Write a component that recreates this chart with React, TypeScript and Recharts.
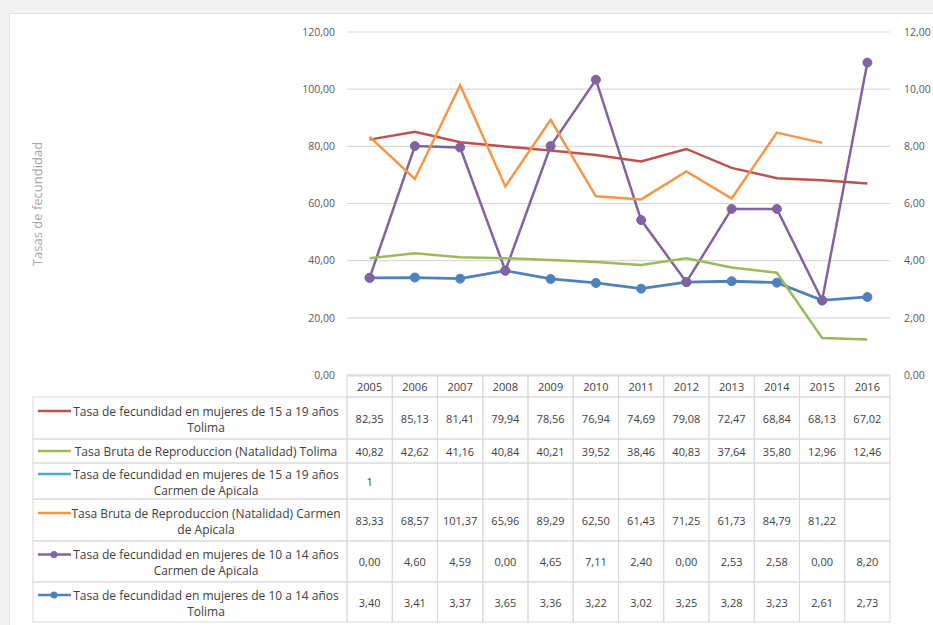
import React from 'react';
import { ComposedChart, Line, Area, XAxis, YAxis, CartesianGrid } from 'recharts';

// ---------- data ----------
const years = ['2005', '2006', '2007', '2008', '2009', '2010', '2011', '2012', '2013', '2014', '2015', '2016'];
const fec1519Tolima = [82.35, 85.13, 81.41, 79.94, 78.56, 76.94, 74.69, 79.08, 72.47, 68.84, 68.13, 67.02];
const brutaTolima = [40.82, 42.62, 41.16, 40.84, 40.21, 39.52, 38.46, 40.83, 37.64, 35.8, 12.96, 12.46];
const fec1519Carmen: (number | null)[] = [1, null, null, null, null, null, null, null, null, null, null, null];
const brutaCarmen: (number | null)[] = [83.33, 68.57, 101.37, 65.96, 89.29, 62.5, 61.43, 71.25, 61.73, 84.79, 81.22, null];
const fec1014Carmen = [0.0, 4.6, 4.59, 0.0, 4.65, 7.11, 2.4, 0.0, 2.53, 2.58, 0.0, 8.2];
const fec1014Tolima = [3.4, 3.41, 3.37, 3.65, 3.36, 3.22, 3.02, 3.25, 3.28, 3.23, 2.61, 2.73];
const leftTicks = [0, 20, 40, 60, 80, 100, 120];
const rightTicks = [0, 2, 4, 6, 8, 10, 12];
const axisTitle = 'Tasas de fecundidad';

const C_RED = '#c0504d';
const C_GREEN = '#9bbb59';
const C_CYAN = '#4bacc6';
const C_ORANGE = '#f79646';
const C_PURPLE = '#8064a2';
const C_BLUE = '#4f81bd';

const rows = [
  { key: 'r', lines: ['Tasa de fecundidad en mujeres de 15 a 19 años', 'Tolima'], color: C_RED, values: fec1519Tolima, dec: 2, marker: false },
  { key: 'g', lines: ['Tasa Bruta de Reproduccion (Natalidad) Tolima'], color: C_GREEN, values: brutaTolima, dec: 2, marker: false },
  { key: 'c', lines: ['Tasa de fecundidad en mujeres de 15 a 19 años', 'Carmen de Apicala'], color: C_CYAN, values: fec1519Carmen, dec: 0, marker: false },
  { key: 'o', lines: ['Tasa Bruta de Reproduccion (Natalidad) Carmen', 'de Apicala'], color: C_ORANGE, values: brutaCarmen, dec: 2, marker: false },
  { key: 'p', lines: ['Tasa de fecundidad en mujeres de 10 a 14 años', 'Carmen de Apicala'], color: C_PURPLE, values: fec1014Carmen, dec: 2, marker: true },
  { key: 'b', lines: ['Tasa de fecundidad en mujeres de 10 a 14 años', 'Tolima'], color: C_BLUE, values: fec1014Tolima, dec: 2, marker: true },
];

const data = years.map((y, i) => {
  const o: any = { year: y };
  rows.forEach((r) => { o[r.key] = r.values[i]; });
  return o;
});

// ---------- layout ----------
const W = 933;
const H = 625;
const PLOT_L = 347;
const PLOT_R = 890;
const PLOT_T = 32;
const PLOT_B = 375;
const LEFT_AXIS_W = 60;
const RIGHT_AXIS_W = 43;
const XAXIS_H = 30;
const COL_W = (PLOT_R - PLOT_L) / years.length;
const HEADER = [376, 397];
const ROW_Y = [397, 439, 463, 499, 541, 582, 622];
const LEG_L = 33;
const GRID = '#d9d9d9';
const TXT = '#404040';
const FONT = "'Open Sans', 'Liberation Sans', sans-serif";

const fmt = (v: number | null, dec: number) => (v === null || v === undefined ? '' : v.toFixed(dec).replace('.', ','));

function LegendColumn() {
  return (
    <g>
      {rows.map((r, ri) => {
        const top = ROW_Y[ri];
        const bot = ROW_Y[ri + 1];
        const cy = (top + bot) / 2;
        const n = r.lines.length;
        const ly = cy - (n === 2 ? 7 : 0);
        return (
          <g key={r.key}>
            <rect x={LEG_L} y={top} width={PLOT_L - LEG_L} height={bot - top} fill="none" stroke={GRID} strokeWidth={1} />
            <line x1={38} x2={71} y1={ly} y2={ly} stroke={r.color} strokeWidth={2.5} />
            {r.marker && <circle cx={54} cy={ly} r={3.5} fill={r.color} />}
            {r.lines.map((t, li) => (
              <text
                key={li}
                x={206}
                y={cy + (n === 2 ? (li === 0 ? -7 : 9) : 0)}
                textAnchor="middle"
                dominantBaseline="central"
                fontSize={12}
                fontFamily={FONT}
                fill={TXT}
              >
                {t}
              </text>
            ))}
          </g>
        );
      })}
    </g>
  );
}

function TableTick(props: any) {
  const { x, payload, index } = props;
  const i = payload && payload.index !== undefined ? payload.index : index;
  const left = x - COL_W / 2;
  return (
    <g>
      {i === 0 && <LegendColumn />}
      <rect x={left} y={HEADER[0]} width={COL_W} height={HEADER[1] - HEADER[0]} fill="none" stroke={GRID} strokeWidth={1} />
      <text x={x} y={(HEADER[0] + HEADER[1]) / 2} textAnchor="middle" dominantBaseline="central" fontSize={11} fontFamily={FONT} fill={TXT}>
        {payload.value}
      </text>
      {rows.map((r, ri) => {
        const top = ROW_Y[ri];
        const bot = ROW_Y[ri + 1];
        return (
          <g key={r.key}>
            <rect x={left} y={top} width={COL_W} height={bot - top} fill="none" stroke={GRID} strokeWidth={1} />
            <text x={x} y={(top + bot) / 2} textAnchor="middle" dominantBaseline="central" fontSize={11} fontFamily={FONT} fill={TXT}>
              {fmt(r.values[i] as any, r.dec)}
            </text>
          </g>
        );
      })}
    </g>
  );
}

const tickStyle = { fontSize: 10.5, fontFamily: FONT, fill: '#595959' };

export default function App() {
  return (
    <div style={{ position: 'absolute', left: 0, top: 0, width: W, height: H, overflow: 'hidden', background: '#f3f3f3' }}>
      <div style={{ position: 'absolute', left: 9, top: 13, width: W, height: H, background: '#fff', borderLeft: '1px solid #e3e3e3', borderTop: '1px solid #e3e3e3' }} />
      <div style={{ position: 'absolute', left: 0, top: 0 }}>
        <ComposedChart
          width={W}
          height={H}
          data={data}
          margin={{ top: PLOT_T, right: W - PLOT_R - RIGHT_AXIS_W, bottom: H - PLOT_B - XAXIS_H, left: PLOT_L - LEFT_AXIS_W }}
        >
          <CartesianGrid yAxisId="left" vertical={false} stroke={GRID} strokeWidth={1.2} />
          <XAxis
            dataKey="year"
            scale="band"
            height={XAXIS_H}
            interval={0}
            tickLine={false}
            axisLine={{ stroke: GRID }}
            tick={<TableTick />}
          />
          <YAxis
            yAxisId="left"
            width={LEFT_AXIS_W}
            domain={[0, 120]}
            ticks={leftTicks}
            axisLine={false}
            tickLine={false}
            tick={tickStyle}
            tickFormatter={(v: number) => fmt(v, 2)}
            dx={-4}
          />
          <YAxis
            yAxisId="right"
            orientation="right"
            width={RIGHT_AXIS_W}
            domain={[0, 12]}
            ticks={rightTicks}
            axisLine={false}
            tickLine={false}
            tick={{ ...tickStyle, textAnchor: 'start' }}
            tickFormatter={(v: number) => fmt(v, 2)}
            dx={6}
          />
          <Line yAxisId="left" dataKey="r" stroke={C_RED} strokeWidth={2.5} dot={false} activeDot={false} isAnimationActive={false} />
          <Line yAxisId="left" dataKey="g" stroke={C_GREEN} strokeWidth={2.5} dot={false} activeDot={false} isAnimationActive={false} />
          <Line yAxisId="left" dataKey="c" stroke={C_CYAN} strokeWidth={2.5} dot={false} activeDot={false} isAnimationActive={false} />
          <Line yAxisId="left" dataKey="o" stroke={C_ORANGE} strokeWidth={2.5} dot={false} activeDot={false} isAnimationActive={false} />
          <Area
            yAxisId="right"
            stackId="right"
            dataKey="b"
            type="linear"
            stroke={C_BLUE}
            strokeWidth={2.8}
            fill="none"
            dot={{ r: 4.5, fill: C_BLUE, fillOpacity: 1, stroke: C_BLUE, strokeWidth: 1 }}
            activeDot={false}
            isAnimationActive={false}
          />
          <Area
            yAxisId="right"
            stackId="right"
            dataKey="p"
            type="linear"
            stroke={C_PURPLE}
            strokeWidth={2.5}
            fill="none"
            dot={{ r: 4.5, fill: C_PURPLE, fillOpacity: 1, stroke: C_PURPLE, strokeWidth: 1 }}
            activeDot={false}
            isAnimationActive={false}
          />
        </ComposedChart>
      </div>
      <div
        style={{
          position: 'absolute',
          left: 37,
          top: 204,
          transform: 'translate(-50%, -50%) rotate(-90deg)',
          whiteSpace: 'nowrap',
          fontFamily: FONT,
          fontSize: 13,
          color: '#a6a6a6',
        }}
      >
        {axisTitle}
      </div>
    </div>
  );
}
